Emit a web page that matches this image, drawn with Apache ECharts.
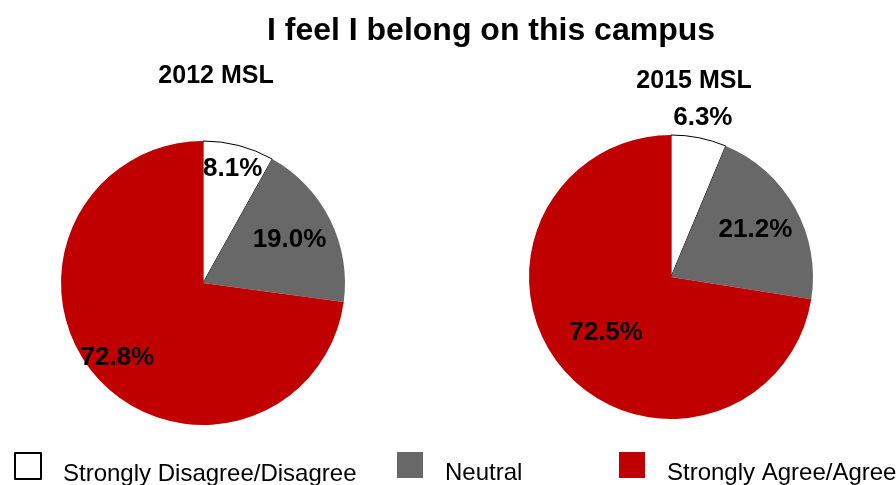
<!DOCTYPE html>
<html>
<head>
<meta charset="utf-8">
<script src="https://cdn.jsdelivr.net/npm/echarts@6/dist/echarts.min.js"></script>
<style>
html, body { margin: 0; padding: 0; background: #fff; }
#chart { width: 896px; height: 485px; }
</style>
</head>
<body>
<div id="chart"></div>
<script>
var categories = ['Strongly Disagree/Disagree', 'Neutral', 'Strongly Agree/Agree'];
var surveyNames = ['2012 MSL', '2015 MSL'];
var values2012 = [8.1, 19.0, 72.8];
var values2015 = [6.3, 21.2, 72.5];

var colores = ['#ffffff', '#686868', '#c00000'];
// how far from the centre each label sits (fraction of radius)
var labelRadio = [[0.81, 0.66, 0.78], [1.12, 0.66, 0.58]];
var radio = 142;
var fuente = '"Liberation Sans", Arial, sans-serif';

function armarDatos(valores) {
    return valores.map(function(v, i) {
        var d = { name: categories[i], value: v, itemStyle: { color: colores[i] } };
        if (i === 0) {
            d.itemStyle.borderColor = '#000';
            d.itemStyle.borderWidth = 1;
        }
        return d;
    });
}

function mover(valores, factores) {
    var total = valores.reduce(function(a, b) { return a + b; }, 0);
    return function(params) {
        var antes = 0;
        for (var k = 0; k < params.dataIndex; k++) antes += valores[k];
        var medio = (antes + valores[params.dataIndex] / 2) / total * 2 * Math.PI;
        var extra = (factores[params.dataIndex] - 0.5) * radio;
        return { dx: extra * Math.sin(medio), dy: -extra * Math.cos(medio) };
    };
}

var myChart = echarts.init(document.getElementById('chart'));

function serie(valores, centro, factores) {
    return {
        type: 'pie',
        radius: radio,
        center: centro,
        startAngle: 90,
        clockwise: true,
        silent: true,
        data: armarDatos(valores),
        label: {
            show: true,
            position: 'inside',
            formatter: function(p) { return p.value.toFixed(1) + '%'; },
            color: '#000',
            fontSize: 26,
            fontWeight: 'bold',
            fontFamily: fuente
        },
        labelLine: { show: false },
        labelLayout: mover(valores, factores)
    };
}

function leyenda(nombre, x) {
    return {
        data: [nombre],
        left: x,
        top: 452,
        padding: 0,
        itemWidth: 26,
        itemHeight: 26,
        itemGap: 0,
        selectedMode: false,
        icon: 'rect',
        formatter: '{t|{name}}',
        textStyle: {
            rich: {
                t: { fontSize: 24, fontFamily: fuente, color: '#000', padding: [17, 0, 0, 17] }
            }
        }
    };
}

option = {
    backgroundColor: '#fff',
    animation: false,
    title: [{
        text: 'I feel I belong on this campus',
        left: 486,
        textAlign: 'center',
        top: 10,
        textStyle: { fontSize: 32, fontWeight: 'bold', fontFamily: fuente, color: '#000' }
    }, {
        text: surveyNames[0],
        left: 211,
        textAlign: 'center',
        top: 59,
        textStyle: { fontSize: 25, fontWeight: 'bold', fontFamily: fuente, color: '#000' }
    }, {
        text: surveyNames[1],
        left: 689,
        textAlign: 'center',
        top: 64,
        textStyle: { fontSize: 25, fontWeight: 'bold', fontFamily: fuente, color: '#000' }
    }],
    legend: [
        leyenda(categories[0], 14),
        leyenda(categories[1], 397),
        leyenda(categories[2], 619)
    ],
    series: [
        serie(values2012, [203, 283], labelRadio[0]),
        serie(values2015, [671, 277], labelRadio[1])
    ]
};
myChart.setOption(option, true);
</script>
</body>
</html>
